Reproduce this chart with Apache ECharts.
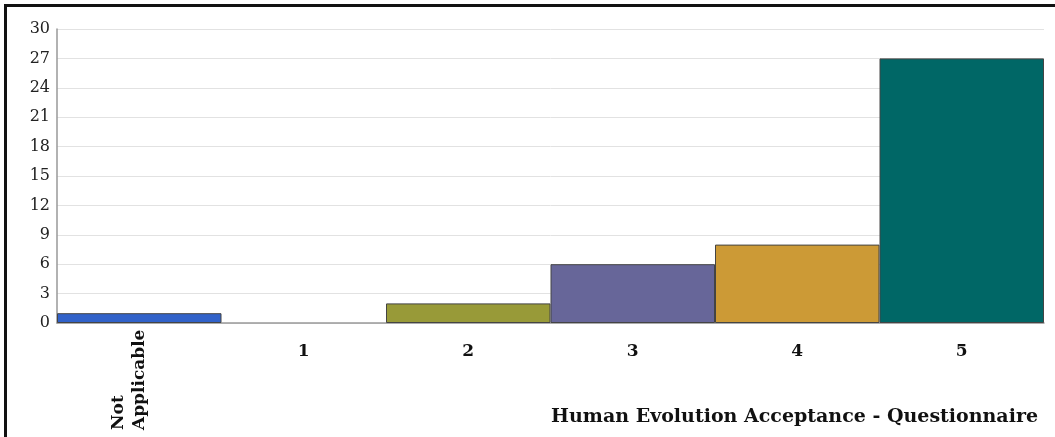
<!DOCTYPE html>
<html>
<head>
<meta charset="utf-8">
<script src="https://cdn.jsdelivr.net/npm/echarts@6/dist/echarts.min.js"></script>
<style>
  html, body { margin: 0; padding: 0; background: #fff; }
  #chart { width: 1055px; height: 437px; }
</style>
</head>
<body>
<div id="chart"></div>
<script>
// Response categories and counts
const categories = ['Not\nApplicable', '1', '2', '3', '4', '5'];
const counts = [1, 0, 2, 6, 8, 27];
const barColors = ['#3162c9', '#dc3912', '#989a38', '#676699', '#cc9a36', '#006766'];
const yTicks = { min: 0, max: 30, interval: 3 };
const chartTitle = 'Human Evolution Acceptance - Questionnaire';

const serif = '"DejaVu Serif", Georgia, serif';

const chart = echarts.init(document.getElementById('chart'));
chart.setOption({
  animation: false,
  title: {
    text: chartTitle,
    right: 12,
    bottom: 5,
    textStyle: { fontFamily: serif, fontWeight: 'bold', fontSize: 19, color: '#111' }
  },
  grid: { left: 57, right: 11, top: 29, bottom: 114 },
  xAxis: [
    {
      type: 'category',
      data: categories,
      axisLine: { lineStyle: { color: '#999', width: 1.5 } },
      axisTick: { show: false },
      axisLabel: {
        interval: 0,
        margin: 20,
        fontFamily: serif,
        fontWeight: 'bold',
        fontSize: 17,
        color: '#111',
        formatter: (v, i) => (i === 0 ? '' : v)
      }
    },
    {
      // vertical label for the first category only, reading bottom to top;
      // a trailing blank line nudges the two text lines left of the bar centre
      type: 'category',
      position: 'bottom',
      data: categories,
      axisLine: { show: false },
      axisTick: { show: false },
      axisLabel: {
        interval: 0,
        rotate: 90,
        align: 'left',
        margin: 107,
        fontFamily: serif,
        fontWeight: 'bold',
        fontSize: 17,
        lineHeight: 21,
        color: '#111',
        formatter: (v, i) => (i === 0 ? v + '\n ' : '')
      }
    }
  ],
  yAxis: {
    type: 'value',
    min: yTicks.min,
    max: yTicks.max,
    interval: yTicks.interval,
    axisLine: { show: true, lineStyle: { color: '#999', width: 1.5 } },
    axisTick: { show: false },
    splitLine: { lineStyle: { color: '#e2e2e2', width: 1 } },
    axisLabel: { margin: 7, fontFamily: serif, fontSize: 16, color: '#222' }
  },
  series: [{
    type: 'bar',
    xAxisIndex: 0,
    barCategoryGap: '0%',
    data: counts.map((v, i) => ({
      value: v,
      itemStyle: { color: barColors[i], borderColor: '#444', borderWidth: v > 0 ? 1 : 0 }
    }))
  }],
  graphic: [
    { type: 'rect', shape: { x: 4, y: 4, width: 1060, height: 3 }, style: { fill: '#111' }, silent: true },
    { type: 'rect', shape: { x: 4, y: 4, width: 3, height: 440 }, style: { fill: '#111' }, silent: true }
  ]
});
</script>
</body>
</html>
